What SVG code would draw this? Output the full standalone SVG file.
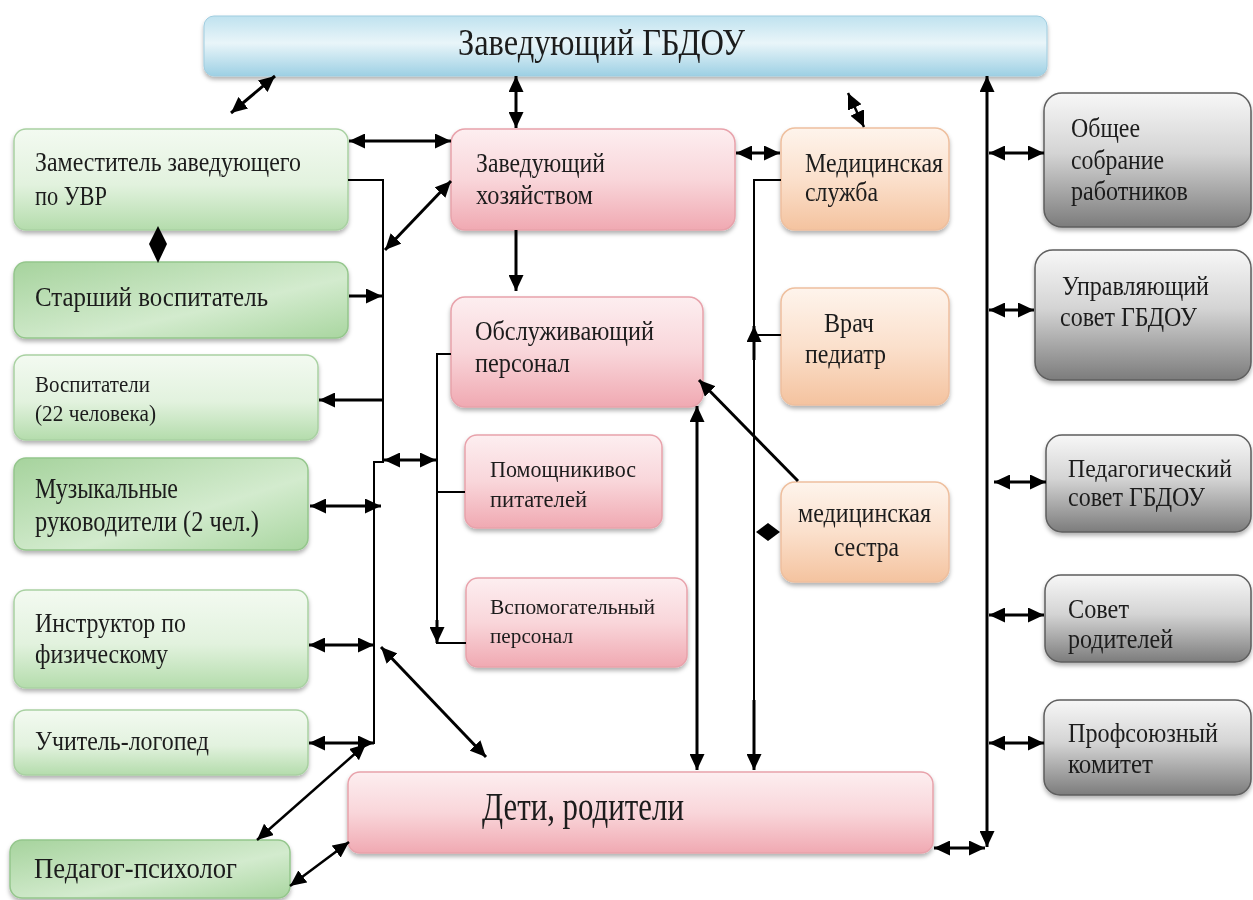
<svg xmlns="http://www.w3.org/2000/svg" width="1253" height="900" viewBox="0 0 1253 900">
<style>
text{font-family:"Liberation Serif","Times New Roman",serif;fill:#1c1c1c}
.g{fill:url(#gGreen);stroke:#a9d1a2;stroke-width:1.5}
.g2{fill:url(#gGreen2);stroke:#94c68c;stroke-width:1.5}
.p{fill:url(#gPink);stroke:#e8a2ab;stroke-width:1.5}
.o{fill:url(#gPeach);stroke:#eebf9e;stroke-width:1.5}
.k{fill:url(#gGray);stroke:#5e5e5e;stroke-width:1.5}
.b{fill:url(#gBlue);stroke:#9fcde0;stroke-width:1}
.box{filter:url(#sh)}
.a{stroke:#000;stroke-width:3;fill:none;marker-end:url(#ah)}
.aa{stroke:#000;stroke-width:3;fill:none;marker-start:url(#ah);marker-end:url(#ah)}
.t{stroke:#000;stroke-width:2;fill:none}
.as{stroke:#000;stroke-width:2.5;fill:none;marker-start:url(#ah);marker-end:url(#ah)}
.d{fill:#000}
</style>
<defs>
<linearGradient id="gGreen" x1="0" y1="0" x2="0" y2="1"><stop offset="0" stop-color="#f3faf1"/><stop offset="0.55" stop-color="#e2f2de"/><stop offset="1" stop-color="#b4dcac"/></linearGradient>
<linearGradient id="gGreen2" x1="0" y1="0" x2="1" y2="1"><stop offset="0" stop-color="#a6d39d"/><stop offset="0.6" stop-color="#d3ebce"/><stop offset="1" stop-color="#a9d6a0"/></linearGradient>
<linearGradient id="gPink" x1="0" y1="0" x2="0" y2="1"><stop offset="0" stop-color="#fdeef0"/><stop offset="0.5" stop-color="#f9d6da"/><stop offset="1" stop-color="#f0a9b2"/></linearGradient>
<linearGradient id="gPeach" x1="0" y1="0" x2="0" y2="1"><stop offset="0" stop-color="#fef4ec"/><stop offset="0.5" stop-color="#fbe0cc"/><stop offset="1" stop-color="#f4c39f"/></linearGradient>
<linearGradient id="gGray" x1="0" y1="0" x2="0" y2="1"><stop offset="0" stop-color="#f7f7f7"/><stop offset="0.45" stop-color="#d4d4d4"/><stop offset="1" stop-color="#7c7c7c"/></linearGradient>
<linearGradient id="gBlue" x1="0" y1="0" x2="0" y2="1"><stop offset="0" stop-color="#bfe2ef"/><stop offset="0.45" stop-color="#e9f5f9"/><stop offset="1" stop-color="#9dd0e4"/></linearGradient>
<filter id="sh" x="-5%" y="-10%" width="110%" height="130%"><feDropShadow dx="0" dy="3" stdDeviation="2" flood-color="#000" flood-opacity="0.3"/></filter>
<marker id="ah" markerUnits="userSpaceOnUse" markerWidth="17" markerHeight="15" refX="16" refY="7.5" orient="auto-start-reverse"><path d="M0,0 L16,7.5 L0,15 z" fill="#000"/></marker>
</defs>

<g id="n-head" class="box"><rect class="b" x="204" y="16" width="843" height="60" rx="10"/><text x="458" y="55" font-size="37" textLength="287" lengthAdjust="spacingAndGlyphs">Заведующий ГБДОУ</text></g>

<g id="n-zam" class="box"><rect class="g" x="14" y="129" width="334" height="101" rx="12"/><text x="35" y="171" font-size="28" textLength="266" lengthAdjust="spacingAndGlyphs">Заместитель заведующего</text><text x="35" y="205" font-size="28" textLength="72" lengthAdjust="spacingAndGlyphs">по УВР</text></g>
<g id="n-star" class="box"><rect class="g2" x="14" y="262" width="334" height="76" rx="12"/><text x="35" y="306" font-size="28" textLength="233" lengthAdjust="spacingAndGlyphs">Старший  воспитатель</text></g>
<g id="n-vosp" class="box"><rect class="g" x="14" y="355" width="304" height="85" rx="12"/><text x="35" y="392" font-size="24" textLength="115" lengthAdjust="spacingAndGlyphs">Воспитатели</text><text x="35" y="421" font-size="24" textLength="121" lengthAdjust="spacingAndGlyphs">(22 человека)</text></g>
<g id="n-muz" class="box"><rect class="g2" x="14" y="458" width="294" height="92" rx="12"/><text x="35" y="498" font-size="29" textLength="143" lengthAdjust="spacingAndGlyphs">Музыкальные</text><text x="35" y="531" font-size="29" textLength="224" lengthAdjust="spacingAndGlyphs">руководители (2 чел.)</text></g>
<g id="n-instr" class="box"><rect class="g" x="14" y="590" width="294" height="98" rx="12"/><text x="35" y="632" font-size="28" textLength="151" lengthAdjust="spacingAndGlyphs">Инструктор по</text><text x="35" y="663" font-size="28" textLength="133" lengthAdjust="spacingAndGlyphs">физическому</text></g>
<g id="n-logo" class="box"><rect class="g" x="14" y="710" width="294" height="65" rx="12"/><text x="35" y="750" font-size="28" textLength="174" lengthAdjust="spacingAndGlyphs">Учитель-логопед</text></g>
<g id="n-psy" class="box"><rect class="g2" x="10" y="840" width="280" height="58" rx="12"/><text x="34" y="878" font-size="29" textLength="203" lengthAdjust="spacingAndGlyphs">Педагог-психолог</text></g>

<g id="n-hoz" class="box"><rect class="p" x="451" y="129" width="284" height="101" rx="14"/><text x="476" y="172" font-size="28" textLength="129" lengthAdjust="spacingAndGlyphs">Заведующий</text><text x="476" y="204" font-size="28" textLength="117" lengthAdjust="spacingAndGlyphs">хозяйством</text></g>
<g id="n-obsl" class="box"><rect class="p" x="451" y="297" width="252" height="110" rx="14"/><text x="475" y="340" font-size="27" textLength="179" lengthAdjust="spacingAndGlyphs">Обслуживающий</text><text x="475" y="372" font-size="27" textLength="95" lengthAdjust="spacingAndGlyphs">персонал</text></g>
<g id="n-pom" class="box"><rect class="p" x="465" y="435" width="197" height="93" rx="12"/><text x="490" y="477" font-size="23" textLength="146" lengthAdjust="spacingAndGlyphs">Помощникивос</text><text x="490" y="507" font-size="23" textLength="97" lengthAdjust="spacingAndGlyphs">питателей</text></g>
<g id="n-vspom" class="box"><rect class="p" x="466" y="578" width="221" height="89" rx="12"/><text x="490" y="614" font-size="22" textLength="165" lengthAdjust="spacingAndGlyphs">Вспомогательный</text><text x="490" y="643" font-size="22" textLength="83" lengthAdjust="spacingAndGlyphs">персонал</text></g>
<g id="n-deti" class="box"><rect class="p" x="348" y="772" width="585" height="81" rx="12"/><text x="482" y="820" font-size="40" textLength="202" lengthAdjust="spacingAndGlyphs">Дети, родители</text></g>

<g id="n-med" class="box"><rect class="o" x="781" y="128" width="168" height="102" rx="14"/><text x="805" y="172" font-size="28" textLength="138" lengthAdjust="spacingAndGlyphs">Медицинская</text><text x="805" y="201" font-size="28" textLength="73" lengthAdjust="spacingAndGlyphs">служба</text></g>
<g id="n-vrach" class="box"><rect class="o" x="781" y="288" width="168" height="117" rx="14"/><text x="824" y="332" font-size="28" textLength="50" lengthAdjust="spacingAndGlyphs">Врач</text><text x="805" y="363" font-size="28" textLength="81" lengthAdjust="spacingAndGlyphs">педиатр</text></g>
<g id="n-sestra" class="box"><rect class="o" x="781" y="482" width="168" height="100" rx="14"/><text x="798" y="522" font-size="28" textLength="133" lengthAdjust="spacingAndGlyphs">медицинская</text><text x="834" y="556" font-size="28" textLength="65" lengthAdjust="spacingAndGlyphs">сестра</text></g>

<g id="n-obsh" class="box"><rect class="k" x="1044" y="93" width="207" height="134" rx="18"/><text x="1071" y="137" font-size="28" textLength="69" lengthAdjust="spacingAndGlyphs">Общее</text><text x="1071" y="169" font-size="28" textLength="93" lengthAdjust="spacingAndGlyphs">собрание</text><text x="1071" y="200" font-size="28" textLength="117" lengthAdjust="spacingAndGlyphs">работников</text></g>
<g id="n-upr" class="box"><rect class="k" x="1035" y="250" width="216" height="130" rx="18"/><text x="1062" y="295" font-size="27" textLength="147" lengthAdjust="spacingAndGlyphs">Управляющий</text><text x="1060" y="326" font-size="27" textLength="137" lengthAdjust="spacingAndGlyphs">совет ГБДОУ</text></g>
<g id="n-ped" class="box"><rect class="k" x="1046" y="435" width="205" height="97" rx="16"/><text x="1068" y="477" font-size="25" textLength="164" lengthAdjust="spacingAndGlyphs">Педагогический</text><text x="1068" y="506" font-size="27" textLength="137" lengthAdjust="spacingAndGlyphs">совет ГБДОУ</text></g>
<g id="n-sovet" class="box"><rect class="k" x="1045" y="575" width="206" height="87" rx="16"/><text x="1068" y="618" font-size="28" textLength="61" lengthAdjust="spacingAndGlyphs">Совет</text><text x="1068" y="648" font-size="28" textLength="105" lengthAdjust="spacingAndGlyphs">родителей</text></g>
<g id="n-prof" class="box"><rect class="k" x="1044" y="700" width="207" height="95" rx="16"/><text x="1068" y="742" font-size="27" textLength="150" lengthAdjust="spacingAndGlyphs">Профсоюзный</text><text x="1068" y="773" font-size="27" textLength="85" lengthAdjust="spacingAndGlyphs">комитет</text></g>

<g id="connectors">
<line class="aa" x1="231" y1="113" x2="275" y2="76"/>
<line class="aa" x1="516" y1="76" x2="516" y2="128"/>
<line class="as" x1="848" y1="93" x2="864" y2="127"/>
<line class="aa" x1="987" y1="76" x2="987" y2="847"/>
<line class="aa" x1="934" y1="848" x2="985" y2="848"/>
<line class="aa" x1="989" y1="153" x2="1044" y2="153"/>
<line class="aa" x1="989" y1="310" x2="1034" y2="310"/>
<line class="aa" x1="994" y1="482" x2="1046" y2="482"/>
<line class="aa" x1="989" y1="615" x2="1044" y2="615"/>
<line class="aa" x1="989" y1="743" x2="1044" y2="743"/>
<line class="aa" x1="349" y1="141" x2="451" y2="141"/>
<line class="aa" x1="385" y1="250" x2="451" y2="181"/>
<line class="aa" x1="736" y1="153" x2="780" y2="153"/>
<polygon class="d" points="158,226 167,244 158,263 149,244"/>
<polyline class="t" points="348,180 383,180 383,462 374,462 374,744"/>
<line class="a" x1="349" y1="296" x2="382" y2="296"/>
<line class="a" x1="383" y1="400" x2="319" y2="400"/>
<line class="aa" x1="310" y1="506" x2="381" y2="506"/>
<line class="aa" x1="309" y1="645" x2="374" y2="645"/>
<line class="aa" x1="309" y1="743" x2="374" y2="743"/>
<line class="aa" x1="381" y1="647" x2="486" y2="757"/>
<line class="as" x1="366" y1="744" x2="257" y2="840"/>
<line class="as" x1="290" y1="886" x2="349" y2="842"/>
<line class="a" x1="516" y1="230" x2="516" y2="291"/>
<polyline class="t" points="451,354 437,354 437,643 466,643"/>
<line class="a" x1="437" y1="620" x2="437" y2="643"/>
<line class="t" x1="437" y1="492" x2="465" y2="492"/>
<line class="aa" x1="384" y1="460" x2="436" y2="460"/>
<line class="aa" x1="697" y1="406" x2="697" y2="770"/>
<polyline class="t" points="781,180 754,180 754,770"/>
<line class="a" x1="754" y1="700" x2="754" y2="770"/>
<line class="a" x1="754" y1="360" x2="754" y2="326"/>
<line class="t" x1="754" y1="335" x2="781" y2="335"/>
<polygon class="d" points="756,532 768,523 780,532 768,541"/>
<line class="a" x1="798" y1="481" x2="699" y2="380"/>
</g>
</svg>
